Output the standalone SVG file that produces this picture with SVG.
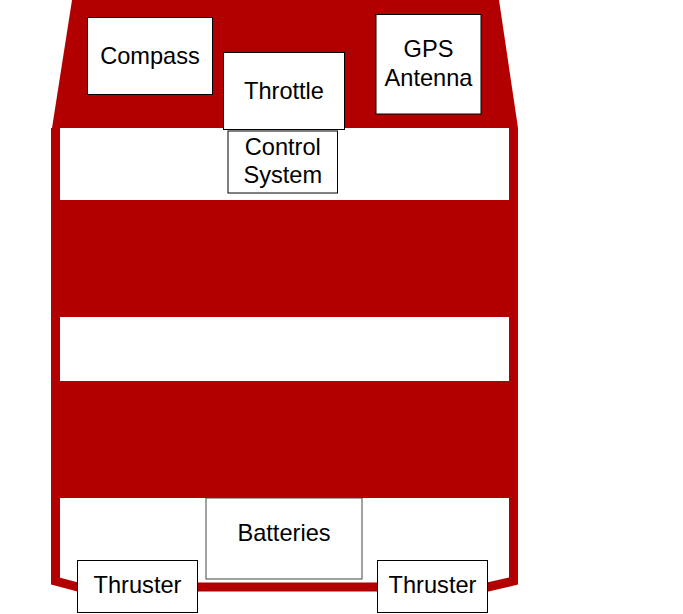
<svg xmlns="http://www.w3.org/2000/svg" width="683" height="614" viewBox="0 0 683 614">
<style>
.red{fill:#b20000}
.box{fill:#fff;stroke:#000;stroke-width:1}
.lbl{font-family:"Liberation Sans",Arial,sans-serif;font-size:23.6px;fill:#000;text-anchor:middle}
</style>
<rect width="683" height="614" fill="#fff"/>
<g id="hull">
<polygon class="red" points="72,0 499,0 518,128 52,128"/>
<rect class="red" x="52" y="200" width="466" height="117"/>
<rect class="red" x="56" y="381" width="454" height="117"/>
<path d="M55.5,128 V581 L78,587 H488 L513.5,581 V128" fill="none" stroke="#b20000" stroke-width="9" stroke-linejoin="miter"/>
</g>
<g id="compass"><rect class="box" x="87.5" y="17.5" width="125" height="77"/><text class="lbl" x="150" y="64">Compass</text></g>
<g id="throttle"><rect class="box" x="223.5" y="52.5" width="121" height="77"/><text class="lbl" x="284" y="98.5">Throttle</text></g>
<g id="control"><rect class="box" x="228" y="131" width="109.5" height="62"/><text class="lbl" x="282.75" y="155">Control</text><text class="lbl" x="282.75" y="183.3">System</text></g>
<g id="gps"><rect class="box" x="376" y="14.5" width="105" height="99.5"/><text class="lbl" x="428.5" y="57.3">GPS</text><text class="lbl" x="428.5" y="86">Antenna</text></g>
<g id="batteries"><rect class="box" x="206" y="498" width="156" height="81" style="stroke:#444"/><text class="lbl" x="284" y="541">Batteries</text></g>
<g id="thruster-left"><rect class="box" x="77.5" y="560.5" width="120" height="52"/><text class="lbl" x="137.5" y="593.3">Thruster</text></g>
<g id="thruster-right"><rect class="box" x="377.5" y="560.5" width="110" height="52"/><text class="lbl" x="432.5" y="593.3">Thruster</text></g>
<g id="connectors"></g>
</svg>
